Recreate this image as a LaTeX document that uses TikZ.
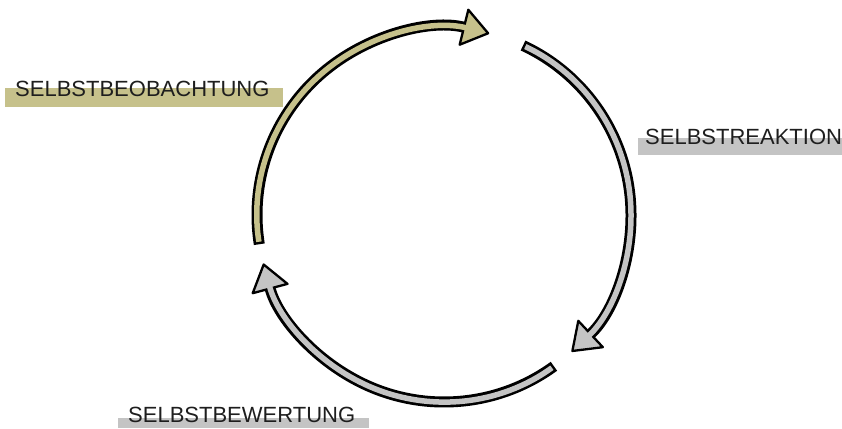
\documentclass[tikz,border=0pt]{standalone}
\usepackage{fontspec}
\setmainfont{Liberation Sans}
\usetikzlibrary{arrows.meta, calc}
\definecolor{olivefill}{HTML}{C6C18B}
\definecolor{greyfill}{HTML}{C4C4C4}
\definecolor{textdark}{HTML}{1E1E1E}
\tikzset{
  ring/.style={line width=11pt, draw=black,
               -{Triangle[length=28pt, width=40pt, fill=#1, line width=2.3pt, round]}},
  ringfill/.style={line width=5.5pt, draw=#1, shorten <=2.5pt, shorten >=24pt},
  phase/.style={font=\fontsize{22}{26}\selectfont, text=textdark,
                inner sep=0pt, anchor=base west}
}
\begin{document}
\begin{tikzpicture}[x=1pt, y=1pt]
    \useasboundingbox (0,0) rectangle (842,428);
    \coordinate (c) at (444,213);

    % marker bars behind the labels
    \fill[olivefill] (5,321) rectangle (283,340);
    \fill[greyfill] (638,273) rectangle (842,290);
    \fill[greyfill] (118,0) rectangle (369,10);

    \node[phase] (beob) at (15,331) {SELBSTBEOBACHTUNG};
    \node[phase] (reakt) at (645,283) {SELBSTREAKTION};
    \node[phase] (bew) at (128,6) {SELBSTBEWERTUNG};

    % the three arrows of the cycle
    \foreach \s/\e/\col in {189/76/olivefill, 65/-47/greyfill, -54/-165/greyfill} {
        \draw[ring=\col] ($(c)+(\s:187)$) arc[start angle=\s, end angle=\e, radius=187];
        \draw[ringfill=\col] ($(c)+(\s:187)$) arc[start angle=\s, end angle=\e, radius=187];
    }
\end{tikzpicture}
\end{document}
